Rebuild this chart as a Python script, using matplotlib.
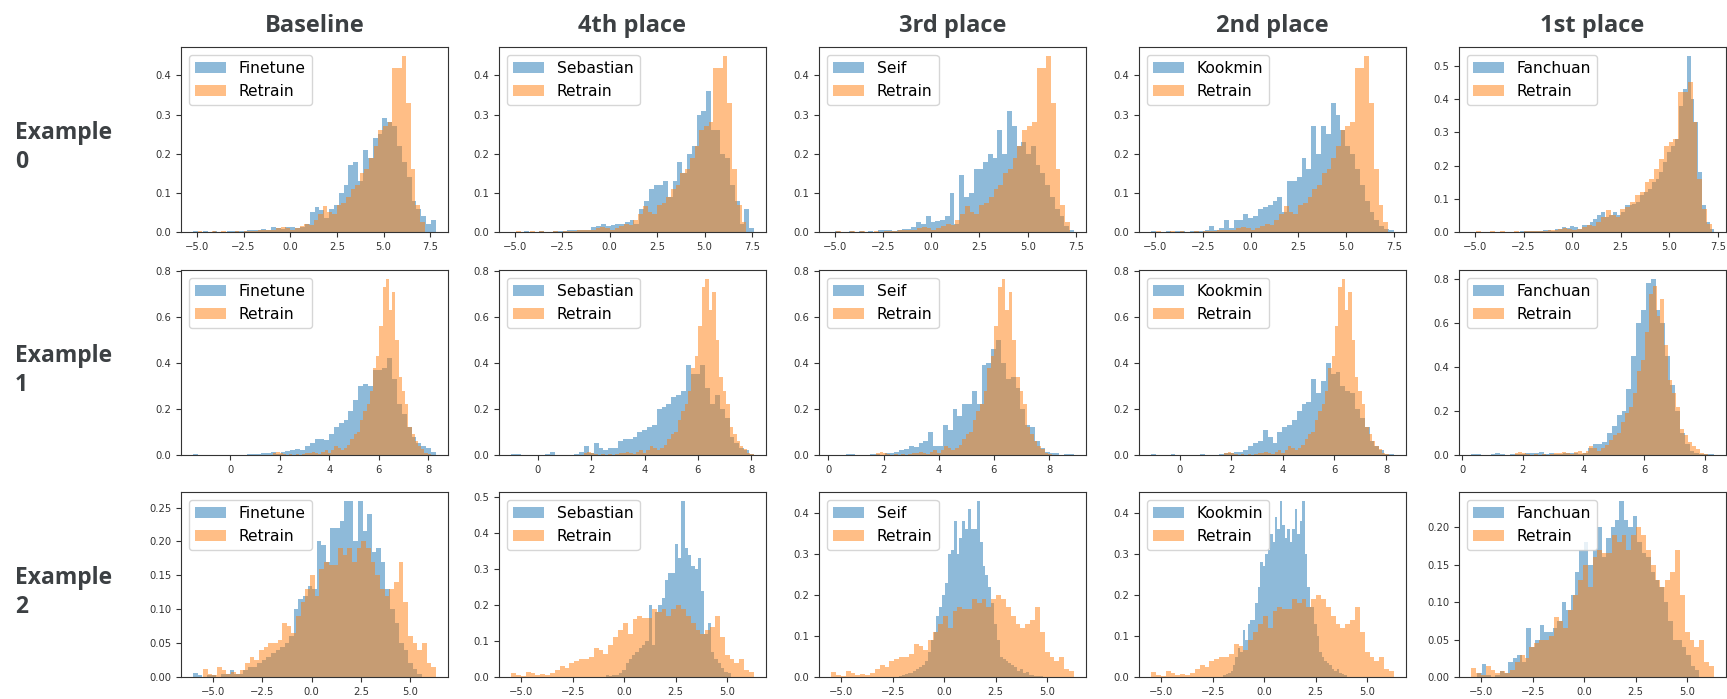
import numpy as np
import matplotlib
matplotlib.use("Agg")
import matplotlib.pyplot as plt
from matplotlib.ticker import MaxNLocator

# ---------------- data ----------------
columns = ["Baseline", "4th place", "3rd place", "2nd place", "1st place"]
methods = ["Finetune", "Sebastian", "Seif", "Kookmin", "Fanchuan"]
row_labels = ["Example\n0", "Example\n1", "Example\n2"]

# Retrain distributions (one per example), (range, density per bin)
retrain0_range = (-5.2, 7.2)
retrain0 = [0, 0.002, 0, 0, 0.002, 0, 0.002, 0, 0, 0.003,
            0, 0.002, 0.003, 0.003, 0.004, 0.004, 0.006, 0.006, 0.01, 0.012,
            0.01, 0.006, 0.01, 0.015, 0.02, 0.018, 0.03, 0.045, 0.066, 0.05,
            0.045, 0.07, 0.075, 0.09, 0.11, 0.12, 0.15, 0.16, 0.19, 0.22,
            0.26, 0.27, 0.28, 0.42, 0.42, 0.45, 0.33, 0.16, 0.07, 0.025]
retrain1_range = (1.6, 8.1)
retrain1 = [0, 0.01, 0.015, 0.01, 0.004, 0, 0.004, 0, 0.005, 0,
            0.005, 0.01, 0.01, 0.012, 0.008, 0.005, 0.015, 0.02, 0.01, 0.02,
            0.04, 0.03, 0.02, 0.03, 0.045, 0.07, 0.09, 0.1, 0.15, 0.19,
            0.22, 0.28, 0.38, 0.43, 0.56, 0.73, 0.766, 0.63, 0.71, 0.5,
            0.34, 0.28, 0.22, 0.12, 0.09, 0.06, 0.04, 0.025, 0.01, 0.005]
retrain2_range = (-5.5, 6.3)
retrain2 = [0.012, 0.005, 0.003, 0.015, 0.01, 0.005, 0.008, 0.005, 0.01, 0.02,
            0.03, 0.025, 0.04, 0.045, 0.05, 0.05, 0.055, 0.08, 0.075, 0.065,
            0.09, 0.11, 0.13, 0.15, 0.12, 0.16, 0.17, 0.165, 0.165, 0.19,
            0.18, 0.19, 0.17, 0.19, 0.2, 0.19, 0.17, 0.15, 0.13, 0.12,
            0.13, 0.14, 0.17, 0.11, 0.06, 0.05, 0.04, 0.05, 0.02, 0.015]

# Example 0 method distributions
ex0_finetune_range = (-5.2, 7.8)
ex0_finetune = [0.003, 0, 0.002, 0, 0.002, 0, 0, 0.003, 0.002, 0.003,
                0.003, 0.004, 0.006, 0.005, 0.008, 0.006, 0.012, 0.01, 0.008, 0.012,
                0.012, 0.01, 0.012, 0.02, 0.05, 0.065, 0.055, 0.035, 0.06, 0.07,
                0.10, 0.12, 0.17, 0.18, 0.13, 0.21, 0.19, 0.24, 0.25, 0.29,
                0.28, 0.27, 0.22, 0.18, 0.14, 0.08, 0.06, 0.04, 0.02, 0.03]
ex0_sebastian_range = (-5.0, 7.6)
ex0_sebastian = [0, 0, 0.002, 0, 0, 0.002, 0, 0, 0.003, 0.002,
                 0.003, 0.004, 0.004, 0.004, 0.005, 0.006, 0.012, 0.015, 0.02, 0.015,
                 0.018, 0.02, 0.02, 0.025, 0.03, 0.02, 0.06, 0.08, 0.11, 0.12,
                 0.12, 0.13, 0.09, 0.13, 0.18, 0.15, 0.20, 0.22, 0.30, 0.31,
                 0.36, 0.26, 0.26, 0.2, 0.19, 0.12, 0.08, 0.02, 0.06, 0.01]
ex0_seif_range = (-5.0, 7.4)
ex0_seif = [0.002, 0, 0, 0.002, 0, 0.002, 0, 0.003, 0, 0.004,
            0.005, 0.006, 0.002, 0.005, 0.008, 0.008, 0.012, 0.025, 0.02, 0.04,
            0.025, 0.028, 0.03, 0.04, 0.10, 0.02, 0.145, 0.09, 0.1, 0.16,
            0.16, 0.18, 0.2, 0.19, 0.26, 0.20, 0.31, 0.27, 0.22, 0.23,
            0.2, 0.22, 0.17, 0.15, 0.12, 0.09, 0.06, 0.04, 0.015, 0.005]
ex0_kookmin_range = (-5.2, 7.5)
ex0_kookmin = [0.002, 0, 0, 0.002, 0, 0.002, 0.002, 0, 0.002, 0.003,
               0.002, 0.004, 0.015, 0.005, 0.01, 0.03, 0.01, 0.03, 0.03, 0.045,
               0.035, 0.04, 0.06, 0.065, 0.07, 0.08, 0.09, 0.05, 0.13, 0.13,
               0.14, 0.19, 0.16, 0.27, 0.2, 0.27, 0.25, 0.33, 0.30, 0.26,
               0.22, 0.20, 0.16, 0.12, 0.08, 0.05, 0.03, 0.015, 0.008, 0.005]
ex0_fanchuan_range = (-2.7, 7.3)
ex0_fanchuan = [0.003, 0.002, 0.003, 0.002, 0.004, 0.003, 0.006, 0.005, 0.004, 0.008,
                0.01, 0.015, 0.012, 0.018, 0.015, 0.01, 0.02, 0.022, 0.03, 0.04,
                0.05, 0.06, 0.045, 0.05, 0.06, 0.05, 0.06, 0.08, 0.08, 0.085,
                0.09, 0.11, 0.12, 0.13, 0.15, 0.16, 0.18, 0.21, 0.24, 0.26,
                0.28, 0.38, 0.43, 0.53, 0.40, 0.33, 0.18, 0.08, 0.03, 0.01]

# Example 1 method distributions
ex1_finetune_range = (-1.5, 8.3)
ex1_finetune = [0.003, 0, 0, 0, 0, 0, 0, 0, 0.002, 0,
                0, 0.003, 0.005, 0.005, 0.008, 0.01, 0.015, 0.005, 0.015, 0.018,
                0.02, 0.025, 0.02, 0.04, 0.05, 0.07, 0.07, 0.065, 0.09, 0.12,
                0.14, 0.15, 0.19, 0.24, 0.30, 0.31, 0.30, 0.37, 0.37, 0.38,
                0.42, 0.33, 0.22, 0.18, 0.12, 0.08, 0.05, 0.04, 0.03, 0.015]
ex1_sebastian_range = (-1.0, 8.1)
ex1_sebastian = [0.005, 0.003, 0, 0, 0, 0, 0, 0.003, 0.015, 0,
                 0, 0, 0, 0.003, 0.015, 0.04, 0.01, 0.05, 0.03, 0.02,
                 0.03, 0.03, 0.06, 0.07, 0.07, 0.08, 0.1, 0.11, 0.12, 0.13,
                 0.2, 0.21, 0.22, 0.25, 0.26, 0.28, 0.39, 0.35, 0.35, 0.39,
                 0.29, 0.22, 0.26, 0.2, 0.16, 0.08, 0.05, 0.03, 0.02, 0.005]
ex1_seif_range = (0.1, 8.9)
ex1_seif = [0, 0, 0, 0.003, 0.005, 0, 0, 0, 0.003, 0.005,
            0.002, 0.01, 0.01, 0.015, 0.02, 0.025, 0.04, 0.035, 0.05, 0.06,
            0.1, 0.04, 0.04, 0.13, 0.11, 0.2, 0.17, 0.22, 0.22, 0.28,
            0.22, 0.39, 0.40, 0.46, 0.5, 0.4, 0.33, 0.34, 0.29, 0.2,
            0.13, 0.12, 0.06, 0.03, 0.015, 0.01, 0.008, 0, 0.003, 0.005]
ex1_kookmin_range = (-1.1, 8.3)
ex1_kookmin = [0.003, 0, 0, 0, 0.003, 0, 0, 0, 0, 0,
               0.003, 0, 0, 0, 0.005, 0.01, 0.008, 0.012, 0.015, 0.02,
               0.04, 0.05, 0.06, 0.11, 0.08, 0.05, 0.1, 0.12, 0.13, 0.15,
               0.19, 0.22, 0.23, 0.33, 0.27, 0.32, 0.4, 0.35, 0.36, 0.3,
               0.28, 0.27, 0.2, 0.16, 0.12, 0.06, 0.04, 0.02, 0.005, 0.005]
ex1_fanchuan_range = (0.3, 8.3)
ex1_fanchuan = [0.005, 0.003, 0, 0, 0.003, 0.008, 0.003, 0, 0.005, 0.003,
                0.005, 0.01, 0.008, 0.01, 0.012, 0.005, 0.008, 0.006, 0.004, 0.01,
                0.01, 0.008, 0.003, 0.01, 0.03, 0.05, 0.05, 0.06, 0.1, 0.13,
                0.18, 0.2, 0.3, 0.45, 0.6, 0.66, 0.78, 0.8, 0.66, 0.6,
                0.45, 0.32, 0.2, 0.1, 0.05, 0.02, 0.01, 0.005, 0.003, 0.005]

# Example 2 method distributions
ex2_finetune_range = (-6.0, 5.6)
ex2_finetune = [0.006, 0.003, 0, 0.003, 0.003, 0, 0.005, 0.005, 0.01, 0.005,
                0.005, 0.01, 0.015, 0.015, 0.02, 0.025, 0.03, 0.035, 0.04, 0.045,
                0.05, 0.06, 0.1, 0.115, 0.12, 0.135, 0.13, 0.2, 0.195, 0.17,
                0.22, 0.22, 0.23, 0.26, 0.26, 0.2, 0.26, 0.215, 0.24, 0.185,
                0.19, 0.17, 0.13, 0.1, 0.08, 0.05, 0.04, 0.02, 0.012, 0.005]
ex2_sebastian_range = (-0.9, 5.18)
ex2_sebastian = [0.005, 0.003, 0.005, 0.005, 0.01, 0.02, 0.04, 0.05, 0.06, 0.07,
                 0.08, 0.09, 0.1, 0.2, 0.09, 0.18, 0.2, 0.22, 0.27, 0.29,
                 0.29, 0.37, 0.33, 0.49, 0.36, 0.34, 0.31, 0.3, 0.33, 0.24,
                 0.12, 0.15, 0.07, 0.05, 0.04, 0.025, 0.015, 0.01]
ex2_seif_range = (-2.2, 4.8)
ex2_seif = [0.003, 0.005, 0.008, 0.01, 0.01, 0.015, 0.02, 0.025, 0.03, 0.04,
            0.06, 0.09, 0.11, 0.15, 0.17, 0.2, 0.23, 0.3, 0.31, 0.38,
            0.3, 0.34, 0.38, 0.36, 0.41, 0.36, 0.36, 0.43, 0.33, 0.27,
            0.25, 0.22, 0.18, 0.13, 0.09, 0.05, 0.045, 0.04, 0.035, 0.03,
            0.025, 0.015, 0.02, 0.01, 0.012, 0.005, 0.006, 0.003, 0.002, 0.003]
ex2_kookmin_range = (-2.0, 4.0)
ex2_kookmin = [0.005, 0.008, 0.01, 0.015, 0.03, 0.05, 0.07, 0.06, 0.115, 0.09,
               0.13, 0.14, 0.14, 0.18, 0.22, 0.28, 0.27, 0.3, 0.31, 0.35,
               0.33, 0.39, 0.36, 0.43, 0.37, 0.34, 0.36, 0.33, 0.36, 0.41,
               0.35, 0.38, 0.43, 0.3, 0.22, 0.17, 0.17, 0.13, 0.1, 0.06,
               0.05, 0.04, 0.035, 0.03, 0.02, 0.015, 0.02, 0.01, 0.008, 0.005]
ex2_fanchuan_range = (-5.2, 5.6)
ex2_fanchuan = [0.005, 0.017, 0.003, 0, 0.003, 0.008, 0.005, 0.02, 0.025, 0.03,
                0.02, 0.065, 0.04, 0.05, 0.07, 0.06, 0.06, 0.065, 0.075, 0.1,
                0.09, 0.11, 0.14, 0.17, 0.18, 0.15, 0.17, 0.2, 0.16, 0.185,
                0.2, 0.21, 0.235, 0.21, 0.2, 0.215, 0.18, 0.165, 0.16, 0.14,
                0.13, 0.12, 0.1, 0.075, 0.05, 0.05, 0.04, 0.03, 0.015, 0.01]

retrain = [(retrain0_range, retrain0), (retrain1_range, retrain1), (retrain2_range, retrain2)]
method_data = [
    [(ex0_finetune_range, ex0_finetune), (ex0_sebastian_range, ex0_sebastian),
     (ex0_seif_range, ex0_seif), (ex0_kookmin_range, ex0_kookmin),
     (ex0_fanchuan_range, ex0_fanchuan)],
    [(ex1_finetune_range, ex1_finetune), (ex1_sebastian_range, ex1_sebastian),
     (ex1_seif_range, ex1_seif), (ex1_kookmin_range, ex1_kookmin),
     (ex1_fanchuan_range, ex1_fanchuan)],
    [(ex2_finetune_range, ex2_finetune), (ex2_sebastian_range, ex2_sebastian),
     (ex2_seif_range, ex2_seif), (ex2_kookmin_range, ex2_kookmin),
     (ex2_fanchuan_range, ex2_fanchuan)],
]

# ---------------- drawing ----------------
W, H = 1727, 699
fig = plt.figure(figsize=(W / 100, H / 100), dpi=100)

col_left_px = [181, 499, 819, 1139, 1459]
row_top_px = [47, 270, 492]
ax_w_px, ax_h_px = 267, 185
text_color = "#3c4043"
head_font = ["Open Sans", "DejaVu Sans"]
steps = [1, 2, 2.5, 5, 10]


def draw_hist(ax, rng, vals, color, label):
    vals = np.asarray(vals, dtype=float)
    edges = np.linspace(rng[0], rng[1], len(vals) + 1)
    ax.hist(edges[:-1], bins=edges, weights=vals, color=color, alpha=0.5, label=label)


for r in range(3):
    for c in range(5):
        left = col_left_px[c] / W
        bottom = 1 - (row_top_px[r] + ax_h_px) / H
        ax = fig.add_axes([left, bottom, ax_w_px / W, ax_h_px / H])
        (mrng, mvals) = method_data[r][c]
        (rrng, rvals) = retrain[r]
        draw_hist(ax, mrng, mvals, "C0", methods[c])
        draw_hist(ax, rrng, rvals, "C1", "Retrain")
        ax.xaxis.set_major_locator(MaxNLocator(nbins=6, steps=steps))
        ax.yaxis.set_major_locator(MaxNLocator(nbins=6, steps=steps))
        ax.tick_params(labelsize=7.2, colors="#333333")
        ax.legend(loc="upper left", fontsize=11.2)
        for s in ax.spines.values():
            s.set_color("#333333")
        if r == 0:
            ax.set_title(columns[c], fontsize=17, fontweight="bold", family=head_font,
                         color=text_color, pad=11)
        if c == 0:
            cy = row_top_px[r] + ax_h_px / 2 + 8
            fig.text(15 / W, 1 - cy / H, row_labels[r], ha="left", va="center",
                     fontsize=16.5, fontweight="bold", family=head_font,
                     color=text_color, linespacing=1.25)

fig.savefig("out.png", dpi=100)
